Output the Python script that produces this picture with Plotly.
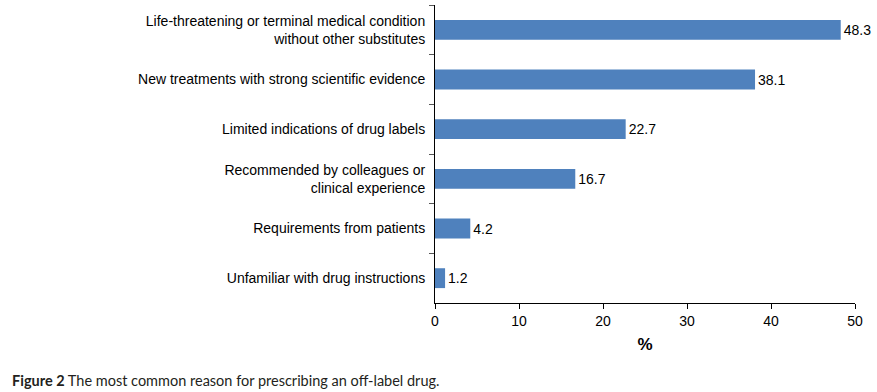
import plotly.graph_objects as go

categories = [
    "Life-threatening or terminal medical condition<br>without other substitutes",
    "New treatments with strong scientific evidence",
    "Limited indications of drug labels",
    "Recommended by colleagues or<br>clinical experience",
    "Requirements from patients",
    "Unfamiliar with drug instructions",
]
values = [48.3, 38.1, 22.7, 16.7, 4.2, 1.2]
x_ticks = [0, 10, 20, 30, 40, 50]

W, H = 877, 392
L, R, T, B = 435, 22, 5, 89

fig = go.Figure(go.Bar(
    x=values, y=categories, orientation="h",
    marker=dict(color="#4F81BD", line=dict(width=0)),
    width=0.4,
    text=[f"{v:.1f}" for v in values], textposition="outside",
    textfont=dict(family="Liberation Sans, Arial", size=14, color="#000"),
    cliponaxis=False,
))

fig.update_layout(
    width=W, height=H,
    margin=dict(l=L, r=R, t=T, b=B),
    plot_bgcolor="white", paper_bgcolor="white",
    font=dict(family="Liberation Sans, Arial", size=14, color="#000"),
    showlegend=False,
    bargap=0.6,
)
fig.update_yaxes(
    categoryorder="array", categoryarray=categories, autorange="reversed",
    showline=True, linecolor="#000", linewidth=1,
    ticks="outside", tickson="boundaries", ticklen=5, tickcolor="#555",
    showgrid=False, ticklabelstandoff=6,
    tickfont=dict(size=14),
)
fig.update_xaxes(
    range=[0, 50], tickvals=x_ticks, ticktext=[str(t) for t in x_ticks],
    showline=True, linecolor="#000", linewidth=1,
    ticks="outside", ticklen=5, tickcolor="#000",
    showgrid=False, zeroline=False,
    tickfont=dict(size=14),
    title=dict(text="<b>%</b>", font=dict(size=17), standoff=10),
)

pw = W - L - R
ph = H - T - B
fig.add_annotation(
    xref="paper", yref="paper",
    x=(10 - L) / pw, y=-(380 - (H - B)) / ph,
    xanchor="left", yanchor="middle", showarrow=False,
    text="<b>Figure 2</b> The most common reason for prescribing an off-label drug.",
    font=dict(family="Lato, Open Sans", size=14.5, color="#231F20"),
)

fig.write_html(
    "out.html",
    config={"displayModeBar": False},
    post_script="document.body.style.margin='0px';document.body.style.overflow='hidden';",
)
